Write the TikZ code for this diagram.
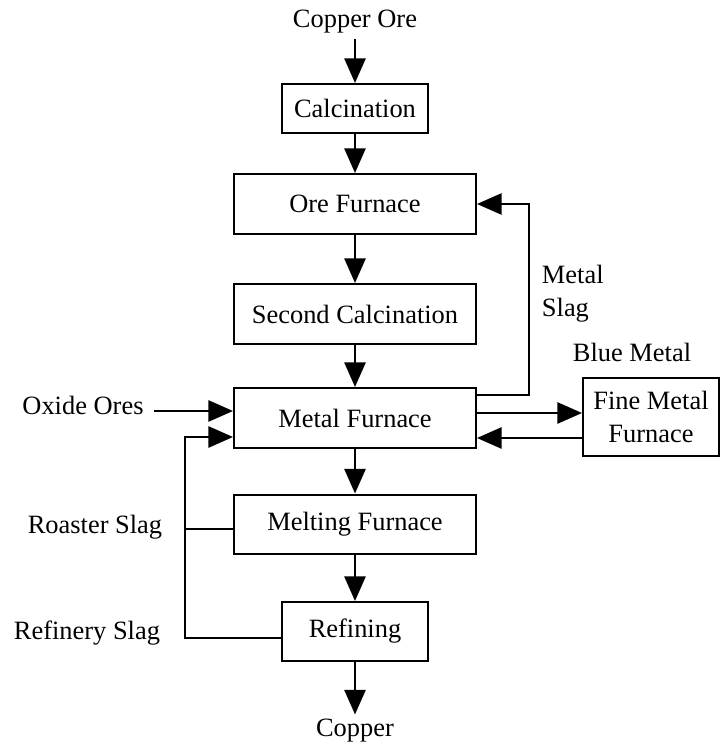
\documentclass[tikz,border=0pt]{standalone}
\usepackage{fontspec}
\setmainfont{Liberation Serif}
\usetikzlibrary{arrows.meta}

\begin{document}
\begin{tikzpicture}[
    font=\fontsize{18.8}{23.5}\selectfont,
    unit/.style={draw, line width=1.7pt, minimum width=6.04cm, minimum height=1.49cm, inner sep=0pt},
    smallunit/.style={unit, minimum width=3.64cm, minimum height=1.215cm},
    flow/.style={line width=1.7pt, -{Triangle[length=17.5pt, width=15pt]}},
    feed/.style={line width=1.7pt}
  ]
  \useasboundingbox (0,0) rectangle (18.05,18.725);

  % Main process units
  \node (ore) at (8.875, 18.175) {Copper Ore};
  \node[smallunit] (calc) at (8.875, 16.0125) {Calcination};
  \node[unit] (orefur) at (8.875, 13.625) {Ore Furnace};
  \node[unit] (calc2) at (8.875, 10.875) {Second Calcination};
  \node[unit] (metal) at (8.875, 8.275) {Metal Furnace};
  \node[unit] (melt) at (8.875, 5.6125) {Melting Furnace};
  \node[smallunit, minimum height=1.465cm] (refine) at (8.875, 2.9375) {Refining};
  \node (copper) at (8.875, 0.45) {Copper};

  % Side unit and labels
  \node[unit, minimum width=3.39cm, minimum height=1.94cm, align=center] (fine) at (16.275, 8.3) {Fine Metal\\Furnace};
  \node (blue) at (15.8, 9.925) {Blue Metal};
  \node[anchor=west, align=left] (slag) at (13.425, 11.375) {Metal\\Slag};
  \node (oxide) at (2.075, 8.6) {Oxide Ores};
  \node (roaster) at (2.375, 5.535) {Roaster Slag};
  \node (refinery) at (2.175, 2.91) {Refinery Slag};

  % Main line
  \draw[flow] (ore) -- (calc);
  \draw[flow] (calc) -- (orefur);
  \draw[flow] (orefur) -- (calc2);
  \draw[flow] (calc2) -- (metal);
  \draw[flow] (metal) -- (melt);
  \draw[flow] (melt) -- (refine);
  \draw[flow] (refine) -- (copper);

  % Metal slag back to the ore furnace
  \draw[flow] ([yshift=-0.2cm]metal.north east) -- ++(1.3,0) |- (orefur.east);

  % Blue metal to and from the fine metal furnace
  \draw[flow] ([yshift=0.125cm]metal.east) -- ([yshift=0.125cm]metal.east -| fine.west);
  \draw[flow] ([yshift=-0.5cm]metal.east -| fine.west) -- ([yshift=-0.5cm]metal.east);

  % Oxide ores and slag returns
  \coordinate (oxin) at ([yshift=0.175cm]metal.west);
  \coordinate (slagin) at ([yshift=-0.475cm]metal.west);
  \draw[flow] ([xshift=4pt]oxide.east |- oxin) -- (oxin);
  \draw[flow] ([yshift=-0.16cm]refine.west) -| ([xshift=-1.2cm]slagin) -- (slagin);
  \draw[feed] ([yshift=-0.11cm]melt.west) -- ++(-1.2,0);

\end{tikzpicture}
\end{document}
